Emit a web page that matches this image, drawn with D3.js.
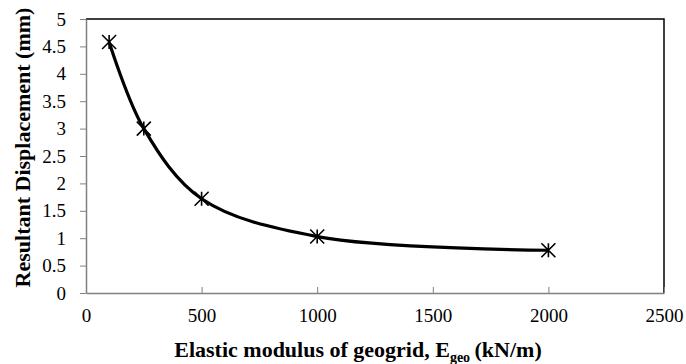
<!DOCTYPE html>
<html><head><meta charset="utf-8">
<script src="https://cdn.jsdelivr.net/npm/d3@7"></script>
<style>html,body{margin:0;padding:0;background:#fff;} text{font-family:'Liberation Serif','Times New Roman',serif;}</style>
</head><body>
<script>
const modulus = [100, 250, 500, 1000, 2000];
const displacement = [4.58, 3.0, 1.72, 1.03, 0.78];
const xTicks = [0, 500, 1000, 1500, 2000, 2500];
const yTicks = [0, 0.5, 1, 1.5, 2, 2.5, 3, 3.5, 4, 4.5, 5];

const W = 686, H = 364;
const m = {left: 86, top: 19, right: 22, bottom: 71};
const svg = d3.select("body").append("svg").attr("width", W).attr("height", H);
const x = d3.scaleLinear().domain([0, 2500]).range([m.left, W - m.right]);
const y = d3.scaleLinear().domain([0, 5]).range([H - m.bottom, m.top]);

// plot border top/right
svg.append("path").attr("d", `M${x(0)},${y(5)}H${x(2500)}V${y(0)}`)
  .attr("fill", "none").attr("stroke", "#000").attr("stroke-width", 1.5);

// x axis
const xa = svg.append("g").attr("transform", `translate(0,${y(0)})`)
  .call(d3.axisBottom(x).tickValues(xTicks).tickFormat(d3.format("d")).tickSizeInner(-6).tickSizeOuter(0));
xa.select(".domain").attr("stroke", "#808080").attr("stroke-width", 1.5);
xa.selectAll(".tick line").attr("stroke", "#808080");
xa.selectAll("text").attr("y", 29).attr("dy", 0)
  .style("font-size", "19px").style("fill", "#000").style("font-family", "'Liberation Serif',serif");

// y axis
const ya = svg.append("g").attr("transform", `translate(${x(0)},0)`)
  .call(d3.axisLeft(y).tickValues(yTicks).tickSize(6).tickSizeOuter(0).tickPadding(14).tickFormat(d3.format("")));
ya.select(".domain").attr("stroke", "#808080").attr("stroke-width", 1.5);
ya.selectAll(".tick line").attr("stroke", "#808080");
ya.selectAll("text")
  .style("font-size", "19px").style("fill", "#000").style("font-family", "'Liberation Serif',serif");

// line
const pts = modulus.map((d, i) => [d, displacement[i]]);
svg.append("path").datum(pts)
  .attr("d", d3.line().x(d => x(d[0])).y(d => y(d[1])).curve(d3.curveCatmullRom.alpha(0.5)))
  .attr("fill", "none").attr("stroke", "#000").attr("stroke-width", 3.2);

// markers
const s = 7;
svg.selectAll(".mk").data(pts).join("path").attr("class", "mk")
  .attr("transform", d => `translate(${x(d[0])},${y(d[1])})`)
  .attr("d", `M${-s},${-s}L${s},${s}M${-s},${s}L${s},${-s}M0,${-s}V${s}`)
  .attr("stroke", "#000").attr("stroke-width", 1.6).attr("fill", "none");

// titles
svg.append("text").attr("x", 358).attr("y", 357)
  .attr("text-anchor", "middle").style("font-weight", "bold").style("font-size", "22px")
  .html('Elastic modulus of geogrid, E<tspan style="font-size:14px" dy="5">geo</tspan><tspan dy="-5">&#8201;(kN/m)</tspan>');
svg.append("text").attr("transform", `translate(30,147.5) rotate(-90)`)
  .attr("text-anchor", "middle").style("font-weight", "bold").style("font-size", "22px")
  .text("Resultant Displacement (mm)");
</script>
</body></html>
